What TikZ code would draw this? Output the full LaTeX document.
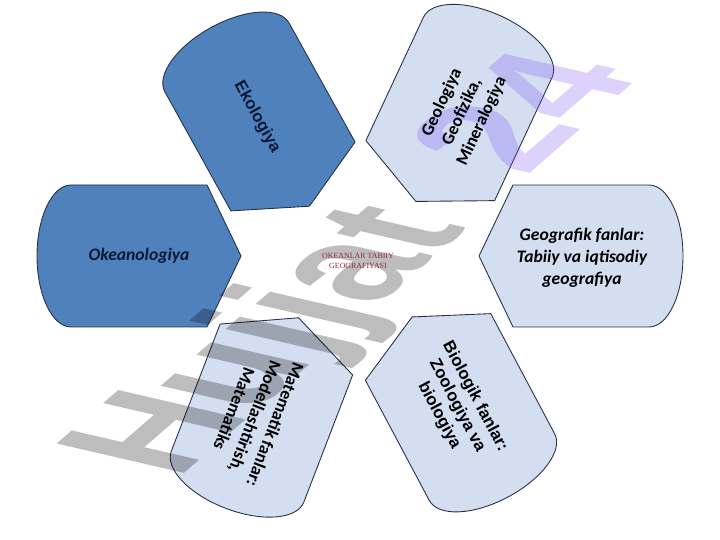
\documentclass[tikz,border=0pt]{standalone}
\usepackage{fontspec}
\setmainfont{Carlito}
\newfontfamily\arialfont{Liberation Sans}
\newfontfamily\timesfont{Liberation Serif}

\definecolor{darkfill}{RGB}{79,129,189}
\definecolor{lightfill}{RGB}{211,222,240}
\definecolor{edgeline}{RGB}{40,48,70}
\definecolor{navytext}{RGB}{12,24,52}
\definecolor{titlered}{RGB}{150,40,55}
\definecolor{markpurple}{RGB}{120,80,245}

\tikzset{
  display/.style={draw=edgeline, line width=0.5pt, line join=round},
  boxtext/.style={align=center, inner sep=1pt, font=\fontsize{10}{12.5}\selectfont\bfseries},
  slanttext/.style={boxtext, font=\fontsize{10}{12.5}\selectfont\bfseries\itshape},
  arialtext/.style={boxtext, font=\arialfont\fontsize{9.5}{11.5}\selectfont\bfseries}
}

\begin{document}
\begin{tikzpicture}[x=0.02cm, y=0.02cm]
\useasboundingbox (0,0) rectangle (720,540);

% Display shapes: centre, rotation, fill
\foreach \cx/\cy/\rot/\col in {139/284/0/darkfill, 260/423/-61/darkfill,
    459/431/-115/lightfill, 581/284/180/lightfill,
    460/133/118/lightfill, 262/127/69/lightfill}
  \draw[display, fill=\col, shift={(\cx,\cy)}, rotate=\rot]
    (102,0) -- (68,71) -- (-68,71)
    arc[start angle=90, end angle=270, x radius=34, y radius=71]
    -- (68,-71) -- cycle;

% Watermark
\begin{scope}[cm={0.755,0.656,-1.335,0.308,(177,60)}]
  \node[transform shape, anchor=base west, inner sep=0pt, text opacity=0.26,
    font=\arialfont\bfseries\fontsize{79}{79}\selectfont] (mark) at (0,0)
    {\color{black}Hujjat\hspace{22pt} {\color{markpurple}24}};
\end{scope}

% Labels
\node[slanttext, text=navytext] (okean) at (139,284) {Okeanologiya};
\node[arialtext, text=navytext, rotate=-61] (eko) at (257,423) {Ekologiya};
\node[boxtext, rotate=65] (geo) at (462,428) {Geologiya\\Geofizika,\\Mineralogiya};
\node[slanttext] (geograf) at (582,282) {Geografik fanlar:\\Tabiiy va iqtisodiy\\geografiya};
\node[arialtext, rotate=-62] (bio) at (457,134) {Biologik fanlar:\\Zoologiya va\\biologiya};
\node[boxtext, rotate=-111] (mat) at (255,123) {Matematik fanlar:\\Modellashtirish,\\Matematiks};

% Centre
\node[align=center, inner sep=0pt, text=titlered,
  font=\timesfont\fontsize{4.5}{6}\selectfont] (title) at (358,279)
  {OKEANLAR TABIIY\\GEOGRAFIYASI};
\end{tikzpicture}
\end{document}
